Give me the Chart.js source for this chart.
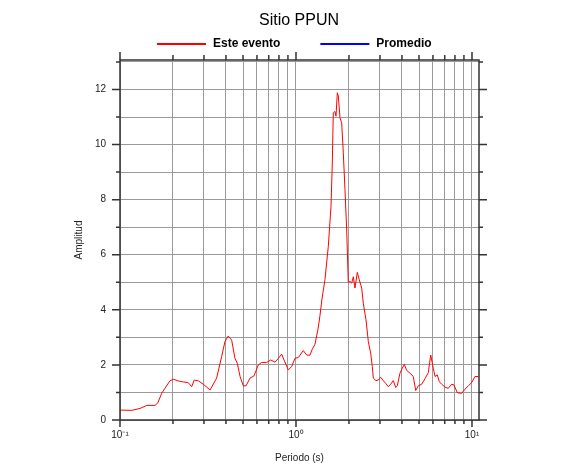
<!DOCTYPE html>
<html>
<head>
<meta charset="utf-8">
<script src="https://cdn.jsdelivr.net/npm/chart.js@4.4.1/dist/chart.umd.min.js"></script>
<style>
  html, body { margin: 0; padding: 0; background: #fff; }
</style>
</head>
<body>
<canvas id="chart" width="586" height="475"></canvas>
<script>
const periods = [0.100, 0.1165, 0.130, 0.142, 0.158, 0.164, 0.1725, 0.180, 0.192, 0.201,
  0.214, 0.229, 0.244, 0.2555, 0.264, 0.279, 0.297, 0.325, 0.354, 0.378,
  0.395, 0.412, 0.431, 0.450, 0.464, 0.481, 0.502, 0.520, 0.548, 0.577,
  0.611, 0.638, 0.682, 0.718, 0.760, 0.794, 0.829, 0.855, 0.904, 0.945,
  0.987, 1.031, 1.100, 1.150, 1.201, 1.233, 1.282, 1.334, 1.369, 1.405,
  1.461, 1.526, 1.581, 1.608, 1.629, 1.665, 1.688, 1.717, 1.740, 1.778,
  1.818, 1.857, 1.898, 1.941, 1.982, 2.027, 2.073, 2.117, 2.164, 2.230,
  2.289, 2.362, 2.412, 2.499, 2.576, 2.658, 2.714, 2.750, 2.848, 2.935,
  3.029, 3.133, 3.234, 3.344, 3.452, 3.571, 3.686, 3.764, 3.898, 4.018,
  4.124, 4.256, 4.443, 4.640, 4.788, 4.954, 5.180, 5.408, 5.647, 5.827,
  6.027, 6.163, 6.351, 6.520, 6.728, 7.025, 7.335, 7.667, 7.902, 8.251,
  8.740, 9.125, 9.528, 9.961, 10.40, 10.86];

const amplitudes = [0.36, 0.35, 0.42, 0.53, 0.53, 0.62, 0.97, 1.15, 1.42, 1.48,
  1.42, 1.38, 1.36, 1.21, 1.45, 1.42, 1.30, 1.09, 1.52, 2.30,
  2.85, 3.05, 2.90, 2.24, 2.06, 1.58, 1.24, 1.24, 1.52, 1.60,
  2.00, 2.09, 2.09, 2.18, 2.10, 2.24, 2.39, 2.18, 1.82, 1.94,
  2.24, 2.27, 2.52, 2.36, 2.35, 2.55, 2.75, 3.30, 3.80, 4.40,
  5.10, 6.30, 7.76, 9.33, 11.15, 11.20, 11.03, 11.88, 11.76, 10.97,
  10.79, 9.70, 8.36, 6.90, 5.00, 5.03, 4.97, 5.20, 4.79, 5.36,
  5.09, 4.79, 4.24, 3.64, 2.85, 2.42, 1.94, 1.52, 1.43, 1.45,
  1.55, 1.43, 1.33, 1.21, 1.30, 1.43, 1.18, 1.24, 1.70, 1.88,
  2.02, 1.80, 1.70, 1.58, 1.07, 1.24, 1.30, 1.50, 1.72, 2.36,
  1.88, 1.58, 1.64, 1.39, 1.30, 1.19, 1.15, 1.30, 1.27, 0.99,
  0.97, 1.12, 1.24, 1.36, 1.58, 1.58];

const promedio = []; // no hay curva promedio dibujada

const xTicks = [0.1, 0.2, 0.3, 0.4, 0.5, 0.6, 0.7, 0.8, 0.9,
  1, 2, 3, 4, 5, 6, 7, 8, 9, 10];
const xTickLabels = { 0.1: '10\u207B\u00B9', 1: '10\u2070', 10: '10\u00B9' };
const yTicks = [0, 1, 2, 3, 4, 5, 6, 7, 8, 9, 10, 11, 12, 13];
const yTickLabels = [0, 2, 4, 6, 8, 10, 12];

const FONT = '"Liberation Sans", Arial, Helvetica, sans-serif';

// marco + marcas de los cuatro ejes
const frameTicks = {
  id: 'frameTicks',
  afterDraw(chart) {
    const { ctx, chartArea: a } = chart;
    const xs = chart.scales.x, ys = chart.scales.y;
    ctx.save();
    ctx.strokeStyle = '#333';
    ctx.lineWidth = 1.5;
    ctx.strokeRect(a.left, a.top, a.right - a.left, a.bottom - a.top);
    ctx.beginPath();
    xTicks.forEach(v => {
      const px = xs.getPixelForValue(v);
      const len = xTickLabels[v] ? 7 : 4;
      ctx.moveTo(px, a.bottom); ctx.lineTo(px, a.bottom + len);
      ctx.moveTo(px, a.top); ctx.lineTo(px, a.top - len - 1);
    });
    yTicks.forEach(v => {
      const py = ys.getPixelForValue(v);
      const len = yTickLabels.includes(v) ? 8 : 4;
      ctx.moveTo(a.left, py); ctx.lineTo(a.left - len, py);
      ctx.moveTo(a.right, py); ctx.lineTo(a.right + len, py);
    });
    ctx.stroke();
    ctx.restore();
  }
};

// leyenda con linea larga
const lineLegend = {
  id: 'lineLegend',
  afterDraw(chart) {
    const ctx = chart.ctx;
    const sets = chart.data.datasets;
    const lineLen = 49, textGap = 7, itemGap = 40, y = 44;
    ctx.save();
    ctx.font = 'bold 12px ' + FONT;
    const widths = sets.map(d => lineLen + textGap + ctx.measureText(d.label).width);
    const total = widths.reduce((s, w) => s + w, 0) + itemGap * (sets.length - 1);
    let x = Math.round(chart.width / 2 - total / 2 + 1);
    sets.forEach((d, i) => {
      ctx.fillStyle = d.borderColor;
      ctx.fillRect(x, y - 1, lineLen, 2);
      ctx.fillStyle = '#000';
      ctx.textBaseline = 'middle';
      ctx.fillText(d.label, x + lineLen + textGap, y);
      x += widths[i] + itemGap;
    });
    ctx.restore();
  }
};

new Chart(document.getElementById('chart'), {
  type: 'line',
  data: {
    datasets: [
      {
        label: 'Este evento',
        data: periods.map((p, i) => ({ x: p, y: amplitudes[i] })),
        borderColor: '#ff0000',
        borderWidth: 1,
        pointRadius: 0,
        tension: 0,
        fill: false
      },
      {
        label: 'Promedio',
        data: promedio,
        borderColor: '#0000ff',
        borderWidth: 1,
        pointRadius: 0
      }
    ]
  },
  options: {
    responsive: false,
    animation: false,
    layout: { padding: { left: 12, right: 0, top: 0, bottom: 0 } },
    plugins: {
      legend: { display: false },
      tooltip: { enabled: false },
      title: {
        display: true,
        text: 'Sitio PPUN',
        color: '#000',
        font: { family: FONT, size: 16, weight: 'normal' },
        padding: { top: 11, bottom: 29.8 }
      }
    },
    scales: {
      x: {
        type: 'logarithmic',
        position: 'bottom',
        min: 0.1,
        max: 10.96,
        afterBuildTicks: s => { s.ticks = xTicks.map(v => ({ value: v })); },
        afterFit: s => { s.height = 55; },
        grid: { color: '#9a9a9a', lineWidth: 1, drawTicks: false },
        border: { display: false },
        ticks: {
          autoSkip: false,
          maxRotation: 0,
          padding: 9,
          color: '#222',
          font: { family: FONT, size: 10 },
          callback: v => xTickLabels[v] || ''
        },
        title: {
          display: true,
          text: 'Periodo (s)',
          color: '#222',
          font: { family: FONT, size: 10 },
          padding: { top: 0, bottom: 11 }
        }
      },
      y: {
        type: 'linear',
        position: 'left',
        min: 0,
        max: 13.07,
        afterBuildTicks: s => { s.ticks = yTicks.map(v => ({ value: v })); },
        afterFit: s => { s.width = 108; },
        grid: { color: '#9a9a9a', lineWidth: 1, drawTicks: false },
        border: { display: false },
        ticks: {
          padding: 14,
          color: '#222',
          font: { family: FONT, size: 10 },
          callback: v => yTickLabels.includes(v) ? String(v) : ''
        },
        title: {
          display: true,
          text: 'Amplitud',
          color: '#222',
          font: { family: FONT, size: 10 },
          padding: { top: 61, bottom: 0 }
        }
      },
      // eje derecho vacio, solo reserva el margen
      y2: {
        type: 'linear',
        position: 'right',
        min: 0,
        max: 13.07,
        afterFit: s => { s.width = 107; },
        grid: { display: false },
        border: { display: false },
        ticks: { display: false }
      }
    }
  },
  plugins: [frameTicks, lineLegend]
});
</script>
</body>
</html>
